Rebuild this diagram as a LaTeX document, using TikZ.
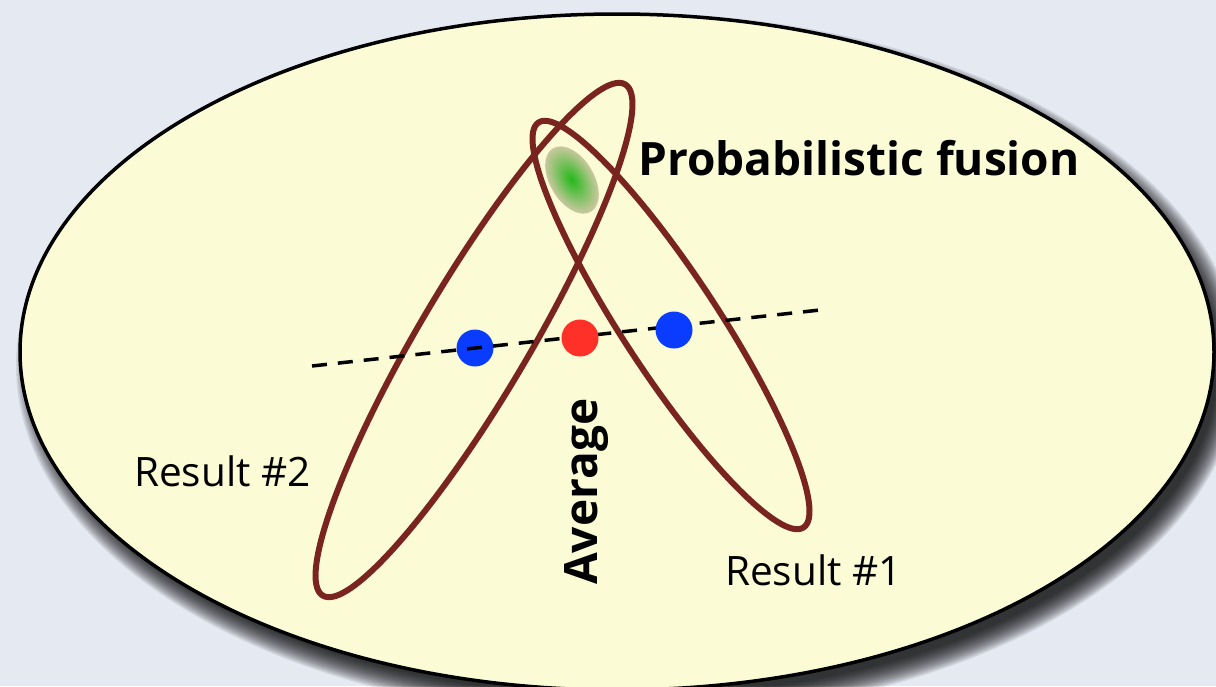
\documentclass[tikz,border=0pt]{standalone}
\usepackage{fontspec}
\setmainfont{Open Sans}

\definecolor{paper}{HTML}{E4E9F2}
\definecolor{cream}{HTML}{FBFCD5}
\definecolor{maroon}{HTML}{7A2420}
\definecolor{dotblue}{HTML}{0A3CFF}
\definecolor{dotred}{HTML}{FF3028}
\definecolor{blobgreen}{HTML}{20B816}
\definecolor{blobedge}{HTML}{C6C89C}

\begin{document}
\begin{tikzpicture}[x=1pt, y=-1pt, every node/.style={font=\fontsize{40.5}{44}\selectfont, inner sep=0pt},
	big/.style={font=\fontsize{46}{50}\selectfont\bfseries},
	dot/.style={circle, minimum size=37pt, inner sep=0pt},
	result/.style={draw=maroon, line width=6pt}]
	\useasboundingbox[fill=paper] (0,0) rectangle (1216,686);
	% soft shadow of the space
	\foreach \r in {0,...,15} {
		\fill[black, opacity=0.085] (628,366) ellipse ({612-1.5*\r} and {353-1.5*\r});
	}
	\draw[fill=cream, line width=3.5pt] (617,352) ellipse (597 and 338);
	% fused estimate
	\foreach \i in {0,...,19} {
		\pgfmathsetmacro\k{5*\i}
		\fill[blobgreen!\k!blobedge, rotate around={121:(572,180)}] (572,180) ellipse ({37*(1-\i/20)} and {22*(1-\i/20)});
	}
	\draw[result, rotate around={59.4:(474,340)}] (474,340) ellipse (297 and 55);
	\draw[result, rotate around={123.2:(671,325)}] (671,325) ellipse (242 and 48);
	\coordinate (west) at (312,366);
	\coordinate (east) at (820,310);
	\node[dot, fill=dotblue] (pos2) at (475,348) {};
	\draw[line width=3.5pt, dash pattern=on 15pt off 11pt] (west) -- (east);
	\node[dot, fill=dotred] (avg) at (580,338) {};
	\node[dot, fill=dotblue] (pos1) at (674,330) {};
	\node[big, anchor=base west] (fusion) at (638,175) {Probabilistic fusion};
	\node[anchor=base west] (res2) at (134,486) {Result \#2};
	\node[anchor=base west] (res1) at (725,585) {Result \#1};
	\node[big, rotate=90, anchor=base west] (avglabel) at (597,585) {Average};
\end{tikzpicture}
\end{document}
